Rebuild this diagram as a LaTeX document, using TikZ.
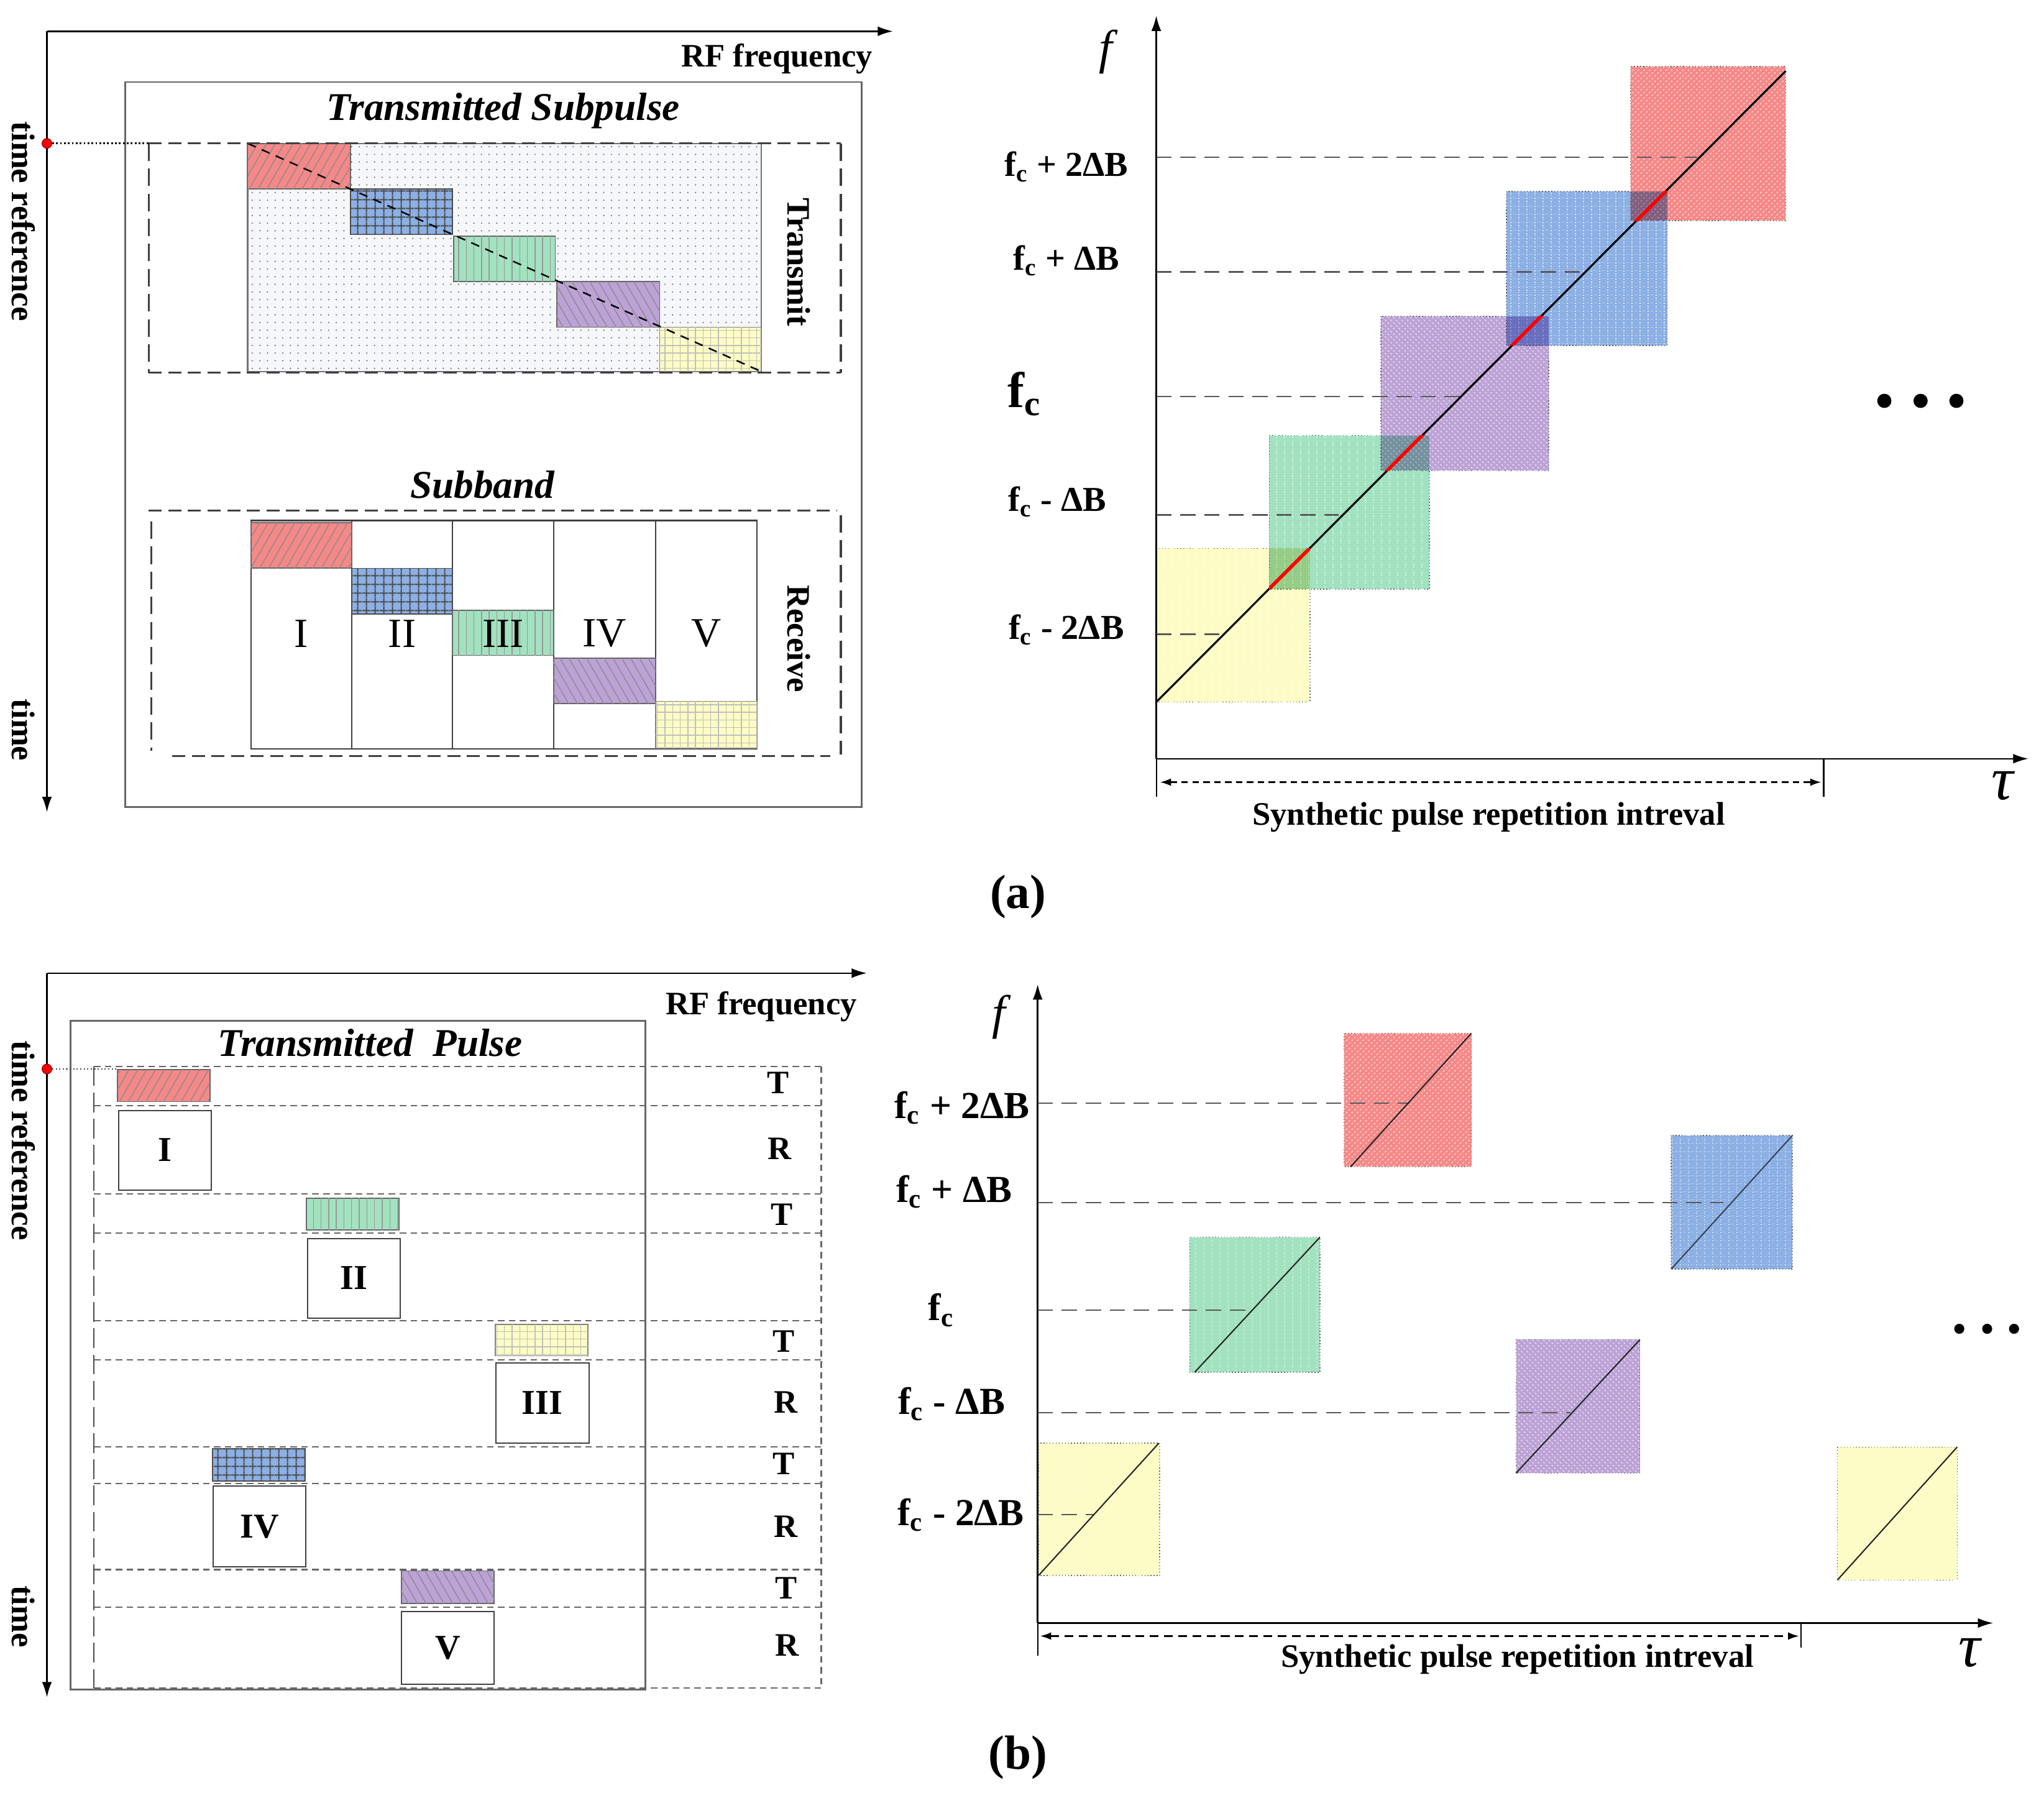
\documentclass[tikz,border=0pt]{standalone}
\usepackage{fontspec}
\setmainfont{Liberation Serif}
\usetikzlibrary{patterns.meta,arrows.meta}
\definecolor{cRed}{RGB}{246,136,136}
\definecolor{cBlue}{RGB}{140,176,228}
\definecolor{cGreen}{RGB}{162,226,192}
\definecolor{cPurple}{RGB}{188,162,214}
\definecolor{cYellow}{RGB}{252,252,196}
\definecolor{cDotBg}{RGB}{246,247,250}
\begin{document}
\begin{tikzpicture}[x=0.020976cm,y=-0.020976cm,
  axis/.style={line width=0.7pt,-{Latex[length=7pt,width=4.5pt]}},
  lbl/.style={inner sep=0pt,font=\fontsize{15}{17}\selectfont\bfseries},
  flbl/.style={inner sep=0pt,font=\fontsize{16}{18}\selectfont\bfseries},
  flblb/.style={inner sep=0pt,font=\fontsize{17.5}{19}\selectfont\bfseries},
  ttl/.style={inner sep=0pt,font=\fontsize{18}{20}\selectfont\bfseries\itshape},
  roma/.style={inner sep=0pt,font=\fontsize{19}{21}\selectfont},
  romb/.style={inner sep=0pt,font=\fontsize{16}{18}\selectfont\bfseries},
  fsym/.style={inner sep=0pt,font=\fontsize{22}{24}\selectfont\itshape},
  tausym/.style={inner sep=0pt,font=\fontsize{28}{30}\selectfont\itshape},
  caplbl/.style={inner sep=0pt,font=\fontsize{22}{24}\selectfont\bfseries},
  frameH/.style={line width=0.9pt,dash pattern=on 6pt off 3pt,black!75},
  frameV/.style={line width=0.9pt,dash pattern=on 8pt off 3.5pt,black!75},
  rowline/.style={line width=0.6pt,dash pattern=on 3pt off 2pt,black!60},
  levline/.style={line width=0.6pt,dash pattern=on 7pt off 4pt,black!65},
  sqb/.style={draw=black!60,densely dotted,line width=0.4pt},
  % left (a) blocks
  bRedL/.style={fill=cRed,draw=black!60,line width=0.5pt,postaction={pattern={Lines[angle=60,distance=3.5pt,line width=0.4pt]},pattern color=black!45}},
  bBlueL/.style={fill=cBlue,draw=black!70,line width=0.5pt,postaction={pattern={Hatch[angle=0,distance=4pt,line width=0.6pt]},pattern color=black!70}},
  bGreenL/.style={fill=cGreen,draw=black!60,line width=0.5pt,postaction={pattern={Lines[angle=90,distance=3.5pt,line width=0.4pt]},pattern color=black!40}},
  bPurpleL/.style={fill=cPurple,draw=black!60,line width=0.5pt,postaction={pattern={Lines[angle=120,distance=3.5pt,line width=0.4pt]},pattern color=black!45}},
  bYellowL/.style={fill=cYellow,draw=black!50,line width=0.5pt,postaction={pattern={Hatch[angle=0,distance=3.5pt,line width=0.4pt]},pattern color=black!25}},
  % right plots squares
  sRed/.style={sqb,fill=cRed,postaction={pattern={Lines[angle=45,distance=1.8pt,line width=0.35pt]},pattern color=white!80!cRed}},
  sBlue/.style={sqb,fill=cBlue,postaction={pattern={Hatch[angle=0,distance=3.7pt,line width=0.45pt]},pattern color=white!75!cBlue}},
  sGreen/.style={sqb,fill=cGreen,postaction={pattern={Lines[angle=90,distance=3.7pt,line width=0.5pt]},pattern color=white!80!cGreen}},
  sPurple/.style={sqb,fill=cPurple,postaction={pattern={Lines[angle=-45,distance=1.8pt,line width=0.35pt]},pattern color=white!80!cPurple}},
  sYellow/.style={sqb,fill=cYellow,postaction={pattern={Hatch[angle=0,distance=3.7pt,line width=0.45pt]},pattern color=white!80!cYellow}},
  reddot/.style={circle,fill=red,draw=red!50!black,line width=0.3pt,inner sep=0pt,minimum size=4.5pt},
  bigdot/.style={circle,fill=black,inner sep=0pt,minimum size=6.5pt},
  smdot/.style={circle,fill=black,inner sep=0pt,minimum size=4.6pt}
]
\useasboundingbox (0,0) rectangle (1568,1379);

%% ================= (a) left =================
\coordinate (aO) at (36,24);
\coordinate (aX) at (685,24);
\coordinate (aY) at (36,623);
\draw[axis] (aO) -- (aX);
\draw[axis] (aO) -- (aY);
\node[lbl] (rfa) at (596,45) {RF frequency};
\node[lbl,rotate=-90] (tra) at (18,170) {time reference};
\node[lbl,rotate=-90] (tia) at (18,560) {time};
\draw[black!60,line width=0.7pt] (96,63) rectangle (661,619);
\node[ttl] (tsa) at (386,85) {Transmitted Subpulse};
% transmit area
\filldraw[fill=cDotBg,draw=black!55,line width=0.6pt,postaction={pattern={Dots[distance=3.5pt,radius=0.35pt]},pattern color=black!55}] (190,110) rectangle (584,285);
\draw[bRedL] (190,110) rectangle (269,145);
\draw[bBlueL] (269,145) rectangle (347,180);
\draw[bGreenL] (348,181) rectangle (426,216);
\draw[bPurpleL] (427,216) rectangle (506,251);
\draw[bYellowL] (506,251) rectangle (584,285);
\coordinate (diagS) at (190,110);
\coordinate (diagE) at (584,285);
\draw[black,line width=0.7pt,dash pattern=on 4pt off 3pt] (diagS) -- (diagE);
\draw[frameH] (114,110) -- (645,110);
\draw[frameH] (114,286) -- (645,286);
\draw[frameV] (114,110) -- (114,286);
\draw[frameV] (645,110) -- (645,286);
\node[reddot] (dota) at (36,110) {};
\coordinate (dotaE) at (114,110);
\draw[densely dotted,line width=0.8pt] (dota) -- (dotaE);
\node[lbl,rotate=-90] (txa) at (613,201) {Transmit};
% receive area
\node[ttl] (sba) at (370,372) {Subband};
\foreach \xa/\xb in {192.7/269.8,269.8/347,347/424.6,424.6/503,503/580.7}
  \draw[black!75,line width=0.6pt] (\xa,399.3) rectangle (\xb,574.5);
\draw[bRedL] (192.7,401) rectangle (269.8,435.8);
\draw[bBlueL] (269.8,436) rectangle (347,471);
\draw[bGreenL] (347,468) rectangle (424.6,502.7);
\draw[bPurpleL] (424.6,505) rectangle (503,539.7);
\draw[bYellowL] (503,538) rectangle (580.7,573.9);
\node[roma] (ra1) at (231,486) {I};
\node[roma] (ra2) at (308.5,486) {II};
\node[roma] (ra3) at (386,486) {III};
\node[roma] (ra4) at (463.5,486) {IV};
\node[roma] (ra5) at (542,486) {V};
\draw[frameH] (114,391.6) -- (642,391.6);
\draw[frameH] (132,580) -- (637,580);
\draw[frameV] (116,400) -- (116,576);
\draw[frameV] (645,395) -- (645,579);
\node[lbl,rotate=-90] (rxa) at (613,490) {Receive};

%% ================= (a) right =================
\coordinate (pO) at (887,582);
\coordinate (pY) at (887,12);
\coordinate (pX) at (1556,582);
\node[fsym] (fa) at (848,40) {f};
\node[tausym] (taua) at (1536,603) {τ};
\node[flbl] (la1) at (818,128) {f\textsubscript{c} + 2ΔB};
\node[flbl] (la2) at (818,200) {f\textsubscript{c} + ΔB};
\node[inner sep=0pt,font=\fontsize{23}{25}\selectfont\bfseries] (la3) at (786,302) {f\textsubscript{c}};
\node[flbl] (la4) at (811,385) {f\textsubscript{c} - ΔB};
\node[flbl] (la5) at (818,483) {f\textsubscript{c} - 2ΔB};
\draw[sYellow] (887,420.6) rectangle (1005,538.5);
\draw[sGreen] (973.6,334) rectangle (1096.4,452);
\draw[sPurple] (1059.3,242.6) rectangle (1188,361);
\draw[sBlue] (1155.6,146.8) rectangle (1278.9,265);
\draw[sRed] (1250.8,51) rectangle (1369.9,169.3);
\begin{scope}[blend mode=multiply]
\fill[cYellow!92!black] (973.6,420.6) rectangle (1005,452);
\fill[cGreen] (1059.3,334) rectangle (1096.4,361);
\fill[cPurple] (1155.6,242.6) rectangle (1188,265);
\fill[cBlue] (1250.8,146.8) rectangle (1278.9,169.3);
\end{scope}
\draw[axis] (pO) -- (pY);
\draw[axis] (pO) -- (pX);
\foreach \yy/\xe in {120.5/1302,208.6/1217,304/1122,395/1027,486.5/937}
  \draw[levline] (887,\yy) -- (\xe,\yy);
\coordinate (chA) at (887,538.5);
\coordinate (chB) at (1369.9,54.5);
\draw[black,line width=0.9pt] (chA) -- (chB);
\foreach \xa/\ya/\xb/\yb in {973.6/420.6/1005/452, 1059.3/334/1096.4/361, 1155.6/242.6/1188/265, 1250.8/146.8/1278.9/169.3}{
  \begin{scope}
    \clip (\xa,\ya) rectangle (\xb,\yb);
    \draw[red,line width=1.6pt] (chA) -- (chB);
  \end{scope}
}
\node[bigdot] (da1) at (1445.5,307.5) {};
\node[bigdot] (da2) at (1473.3,307.5) {};
\node[bigdot] (da3) at (1500.8,307.5) {};
\coordinate (tka) at (887,611);
\coordinate (tkb0) at (1399,582);
\coordinate (tkb) at (1399,611);
\draw[line width=0.6pt] (pO) -- (tka);
\draw[line width=0.6pt] (tkb0) -- (tkb);
\coordinate (spA) at (890,600);
\coordinate (spB) at (1397,600);
\draw[line width=0.6pt,dash pattern=on 3pt off 2pt,{Latex[length=5pt,width=3.5pt]}-{Latex[length=5pt,width=3.5pt]}] (spA) -- (spB);
\node[lbl] (spra) at (1142,627) {Synthetic pulse repetition intreval};
\node[caplbl] (capa) at (781,688) {(a)};

%% ================= (b) left =================
\coordinate (bO) at (36,746.5);
\coordinate (bX) at (665,746.5);
\coordinate (bY) at (36,1302);
\draw[axis] (bO) -- (bX);
\draw[axis] (bO) -- (bY);
\node[lbl] (rfb) at (584,772) {RF frequency};
\node[lbl,rotate=-90] (trb) at (18,875) {time reference};
\node[lbl,rotate=-90] (tib) at (18,1240) {time};
\draw[black!60,line width=0.7pt] (54,783) rectangle (495,1296);
\node[ttl] (tpb) at (284,800) {Transmitted\ \ Pulse};
\foreach \yy in {818,848,916,946,1013,1043,1110,1138,1204,1233,1295}
  \draw[rowline] (72,\yy) -- (630,\yy);
\draw[rowline] (630,818) -- (630,1295);
\draw[line width=0.6pt,dash pattern=on 9pt off 3pt,black!70] (72,818) -- (72,1295);
\draw[bRedL] (90,820.6) rectangle (161,845);
\draw[bGreenL] (235,919) rectangle (306,943.5);
\draw[bYellowL] (380,1016) rectangle (451,1040);
\draw[bBlueL] (163,1111) rectangle (234,1136);
\draw[bPurpleL] (308,1205) rectangle (379,1230);
\draw[black!75,line width=0.6pt] (91,852) rectangle (162,913);
\draw[black!75,line width=0.6pt] (236,950) rectangle (307,1011);
\draw[black!75,line width=0.6pt] (380.5,1045.5) rectangle (452,1107);
\draw[black!75,line width=0.6pt] (163.5,1140) rectangle (234.6,1202);
\draw[black!75,line width=0.6pt] (308,1236) rectangle (379,1292);
\node[romb] (rb1) at (126.5,882) {I};
\node[romb] (rb2) at (271.5,980) {II};
\node[romb] (rb3) at (416,1076) {III};
\node[romb] (rb4) at (199,1171) {IV};
\node[romb] (rb5) at (343.5,1264) {V};
\node[reddot] (dotb) at (36,820) {};
\coordinate (dotbE) at (90,820);
\draw[densely dotted,line width=0.6pt,black!70] (dotb) -- (dotbE);
\node[lbl] (t1) at (597,830.5) {T};
\node[lbl] (r1) at (598,881) {R};
\node[lbl] (t2) at (600,931.5) {T};
\node[lbl] (t3) at (601,1029) {T};
\node[lbl] (r3) at (603,1075.5) {R};
\node[lbl] (t4) at (601,1123) {T};
\node[lbl] (r4) at (603,1171) {R};
\node[lbl] (t5) at (603,1218) {T};
\node[lbl] (r5) at (604,1262) {R};

%% ================= (b) right =================
\coordinate (qO) at (796,1245);
\coordinate (qY) at (796,755);
\coordinate (qX) at (1529,1245);
\node[fsym] (fb) at (766,780) {f};
\node[tausym] (taub) at (1511,1268) {τ};
\node[flblb] (lb1) at (738,850) {f\textsubscript{c} + 2ΔB};
\node[flblb] (lb2) at (732,914) {f\textsubscript{c} + ΔB};
\node[flblb] (lb3) at (722,1005) {f\textsubscript{c}};
\node[flblb] (lb4) at (730,1077) {f\textsubscript{c} - ΔB};
\node[flblb] (lb5) at (737,1162) {f\textsubscript{c} - 2ΔB};
\draw[sRed] (1031,792.6) rectangle (1128.7,895);
\draw[sBlue] (1282,871) rectangle (1375,973.5);
\draw[sGreen] (912.7,949) rectangle (1012.6,1052.6);
\draw[sPurple] (1163,1027.6) rectangle (1258,1130);
\draw[sYellow] (796.6,1107) rectangle (889.6,1208.6);
\draw[sYellow] (1409.5,1110) rectangle (1501.4,1212);
\draw[axis] (qO) -- (qY);
\draw[axis] (qO) -- (qX);
\foreach \yy/\xe in {846.4/1081,922.5/1322,1005/957.5,1083.6/1204.5,1162/839.7}
  \draw[levline] (796,\yy) -- (\xe,\yy);
\coordinate (c1a) at (1036,895); \coordinate (c1b) at (1128.7,792.6);
\coordinate (c2a) at (1282,973.5); \coordinate (c2b) at (1375,871);
\coordinate (c3a) at (916.5,1052.6); \coordinate (c3b) at (1012.6,949);
\coordinate (c4a) at (1163,1130); \coordinate (c4b) at (1258,1027.6);
\coordinate (c5a) at (796.6,1208.6); \coordinate (c5b) at (889,1107);
\coordinate (c6a) at (1409.5,1212); \coordinate (c6b) at (1501.4,1110);
\draw[black!85,line width=0.6pt] (c1a) -- (c1b);
\draw[cBlue!40!black,line width=0.6pt] (c2a) -- (c2b);
\draw[black!85,line width=0.6pt] (c3a) -- (c3b);
\draw[black!85,line width=0.6pt] (c4a) -- (c4b);
\draw[black!85,line width=0.6pt] (c5a) -- (c5b);
\draw[black!85,line width=0.6pt] (c6a) -- (c6b);
\node[smdot] (db1) at (1503,1019.3) {};
\node[smdot] (db2) at (1524.4,1019.3) {};
\node[smdot] (db3) at (1545,1019.3) {};
\coordinate (ukA) at (796,1270);
\coordinate (ukB0) at (1381.4,1245);
\coordinate (ukB) at (1381.4,1264);
\draw[line width=0.6pt] (qO) -- (ukA);
\draw[line width=0.6pt] (ukB0) -- (ukB);
\coordinate (sqA) at (798,1255);
\coordinate (sqB) at (1380,1255);
\draw[line width=0.6pt,dash pattern=on 4pt off 2.5pt,{Latex[length=5pt,width=3.5pt]}-{Latex[length=5pt,width=3.5pt]}] (sqA) -- (sqB);
\node[lbl] (sprb) at (1164,1273) {Synthetic pulse repetition intreval};
\node[caplbl] (capb) at (781,1348) {(b)};
\end{tikzpicture}
\end{document}
